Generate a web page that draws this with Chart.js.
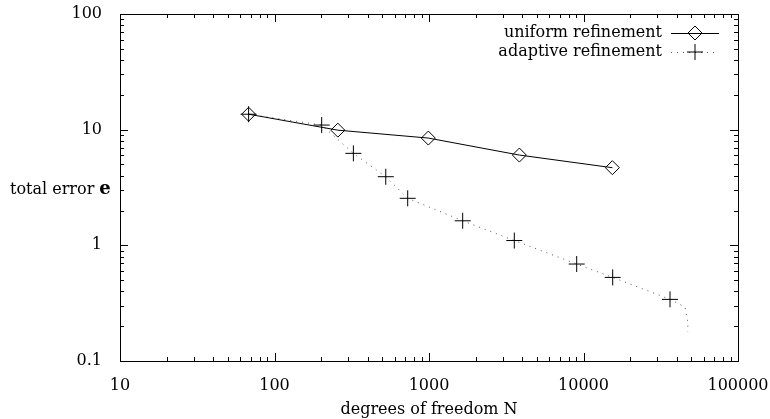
<!DOCTYPE html>
<html>
<head>
<meta charset="utf-8">
<script src="https://cdn.jsdelivr.net/npm/chart.js@4/dist/chart.umd.min.js"></script>
<style>
  html, body { margin: 0; padding: 0; background: #fff; }
  #wrap { width: 770px; height: 419px; }
</style>
</head>
<body>
<div id="wrap"><canvas id="errChart"></canvas></div>
<script>
// values
const uniformN = [68, 257, 990, 3845, 15380];
const uniformErr = [13.6, 9.9, 8.46, 6.03, 4.69];
const adaptiveN = [68, 202, 324, 525, 728, 1652, 3566, 9036, 15450, 36300, 45400, 47400, 47300];
const adaptiveErr = [13.6, 10.96, 6.24, 3.92, 2.55, 1.63, 1.10, 0.689, 0.528, 0.341, 0.293, 0.213, 0.178];
const adaptiveMarks = [1, 1, 1, 1, 1, 1, 1, 1, 1, 1, 0, 0, 0];
const xTicks = [10, 100, 1000, 10000, 100000];
const yTicks = [0.1, 1, 10, 100];
const seriesNames = ['uniform refinement', 'adaptive refinement'];

const serif = "'DejaVu Serif', 'Liberation Serif', serif";
const fontPx = 16;

const toPoints = (xs, ys) => xs.map((x, i) => ({ x: x, y: ys[i] }));

// gnuplot style: frame, inward ticks on all sides, y label, legend in the corner
const frame = {
    id: 'frame',
    afterDraw(chart) {
        const ctx = chart.ctx;
        const a = chart.chartArea;
        const sx = chart.scales.x, sy = chart.scales.y;
        ctx.save();
        ctx.strokeStyle = '#000';
        ctx.lineWidth = 1;
        ctx.strokeRect(Math.round(a.left) + 0.5, Math.round(a.top) + 0.5,
            Math.round(a.right - a.left), Math.round(a.bottom - a.top));

        ctx.beginPath();
        for (let d = 1; d <= 5; d++) {
            for (let m = 1; m <= 9; m++) {
                const v = m * Math.pow(10, d);
                if (v > 100000) break;
                const px = Math.round(sx.getPixelForValue(v)) + 0.5;
                const len = m === 1 ? 8 : 4;
                ctx.moveTo(px, a.bottom); ctx.lineTo(px, a.bottom - len);
                ctx.moveTo(px, a.top); ctx.lineTo(px, a.top + len);
            }
        }
        for (let d = -1; d <= 2; d++) {
            for (let m = 1; m <= 9; m++) {
                const v = m * Math.pow(10, d);
                if (v > 100) break;
                const py = Math.round(sy.getPixelForValue(v)) + 0.5;
                const len = m === 1 ? 8 : 4;
                ctx.moveTo(a.left, py); ctx.lineTo(a.left + len, py);
                ctx.moveTo(a.right, py); ctx.lineTo(a.right - len, py);
            }
        }
        ctx.stroke();

        // y axis label, horizontal
        ctx.fillStyle = '#000';
        ctx.textBaseline = 'middle';
        ctx.textAlign = 'left';
        ctx.font = fontPx + 'px ' + serif;
        const lbl = 'total error ';
        ctx.fillText(lbl, 10, 190);
        const w = ctx.measureText(lbl).width;
        ctx.font = 'bold ' + (fontPx + 2) + 'px ' + serif;
        ctx.fillText('e', 10 + w, 189);

        // legend
        ctx.font = fontPx + 'px ' + serif;
        ctx.textAlign = 'right';
        const rows = [33, 52];
        chart.data.datasets.forEach((ds, i) => {
            const y = rows[i];
            ctx.fillStyle = '#000';
            ctx.fillText(ds.label, 662, y);
            ctx.save();
            ctx.strokeStyle = ds.borderColor;
            ctx.lineWidth = ds.borderWidth;
            ctx.setLineDash(ds.borderDash || []);
            ctx.beginPath();
            ctx.moveTo(671, y + 0.5); ctx.lineTo(719, y + 0.5);
            ctx.stroke();
            ctx.restore();
            ctx.fillStyle = '#fff';
            ctx.strokeStyle = '#000';
            Chart.helpers.drawPoint(ctx, {
                pointStyle: ds.pointStyle,
                radius: ds.legendRadius,
                borderWidth: 1
            }, 695, y);
            if (ds.pointStyle === 'rectRot') {
                ctx.beginPath();
                ctx.moveTo(688, y + 0.5); ctx.lineTo(702, y + 0.5);
                ctx.stroke();
            }
        });
        ctx.restore();
    }
};

new Chart(document.getElementById('errChart'), {
    type: 'scatter',
    data: {
        datasets: [{
            label: seriesNames[0],
            data: toPoints(uniformN, uniformErr),
            showLine: true,
            borderColor: '#000',
            borderWidth: 1,
            backgroundColor: 'rgba(0,0,0,0)',
            pointStyle: 'rectRot',
            pointRadius: 7,
            pointBorderColor: '#000',
            pointBorderWidth: 1,
            legendRadius: 7
        }, {
            label: seriesNames[1],
            data: toPoints(adaptiveN, adaptiveErr),
            showLine: true,
            borderColor: '#555',
            borderWidth: 1,
            borderDash: [1, 5],
            backgroundColor: 'rgba(0,0,0,0)',
            pointStyle: 'cross',
            pointRadius: adaptiveMarks.map(m => m ? 8 : 0),
            pointBorderColor: '#000',
            pointBorderWidth: 1,
            legendRadius: 8
        }]
    },
    options: {
        responsive: true,
        maintainAspectRatio: false,
        animation: false,
        layout: { padding: { left: 0, right: 32, top: 14, bottom: 0 } },
        scales: {
            x: {
                type: 'logarithmic',
                min: 10,
                max: 100000,
                afterBuildTicks: s => { s.ticks = xTicks.map(v => ({ value: v })); },
                afterFit: s => { s.height = 58; s.paddingLeft = 0; s.paddingRight = 0; },
                grid: { display: false },
                border: { display: false },
                ticks: {
                    autoSkip: false,
                    maxRotation: 0,
                    padding: 7,
                    color: '#000',
                    font: { family: serif, size: fontPx },
                    callback: v => String(v)
                },
                title: {
                    display: true,
                    text: 'degrees of freedom N',
                    color: '#000',
                    padding: 0,
                    font: { family: serif, size: fontPx }
                }
            },
            y: {
                type: 'logarithmic',
                min: 0.1,
                max: 100,
                afterBuildTicks: s => { s.ticks = yTicks.map(v => ({ value: v })); },
                afterFit: s => { s.width = 120; s.paddingTop = 0; s.paddingBottom = 0; },
                grid: { display: false },
                border: { display: false },
                ticks: {
                    autoSkip: false,
                    padding: 10,
                    color: '#000',
                    font: { family: serif, size: fontPx },
                    callback: v => String(v)
                }
            }
        },
        plugins: {
            legend: { display: false },
            tooltip: { enabled: false }
        }
    },
    plugins: [frame]
});
</script>
</body>
</html>
